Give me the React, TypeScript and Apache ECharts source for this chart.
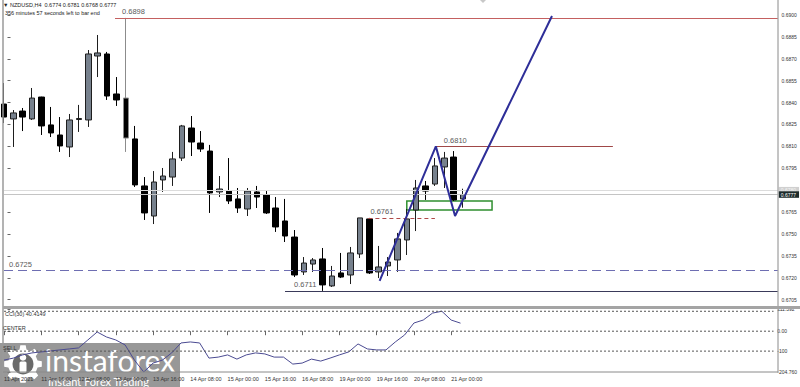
import React, { useEffect, useRef } from 'react';
import * as echarts from 'echarts';

// ---------- data ----------
const symbolName = 'NZDUSD,H4';
const opens = [0.6839, 0.68288, 0.68342, 0.68288, 0.68438, 0.68247, 0.68178, 0.68096, 0.68284, 0.68281, 0.68719, 0.68733, 0.68459, 0.68431, 0.68151, 0.67829, 0.67623, 0.6787, 0.6789, 0.6802, 0.68226, 0.68123, 0.68068, 0.67788, 0.67794, 0.6774, 0.67671, 0.67788, 0.67767, 0.67678, 0.67589, 0.67479, 0.6724, 0.67294, 0.67329, 0.67144, 0.67233, 0.67219, 0.67363, 0.67603, 0.6724, 0.67281, 0.67322, 0.67459, 0.67664, 0.67829, 0.67842, 0.67959, 0.68027, 0.6774];
const highs = [0.68534, 0.68349, 0.68363, 0.685, 0.6844, 0.6837, 0.68301, 0.68322, 0.68384, 0.6876, 0.68863, 0.68747, 0.68575, 0.6898, 0.6824, 0.6789, 0.67931, 0.67952, 0.68062, 0.68247, 0.68308, 0.68205, 0.6811, 0.67897, 0.6802, 0.67815, 0.67815, 0.67829, 0.67794, 0.67753, 0.6774, 0.67527, 0.67342, 0.67335, 0.67404, 0.67281, 0.6737, 0.67411, 0.6761, 0.6761, 0.67418, 0.67342, 0.67507, 0.67671, 0.6787, 0.67863, 0.6802, 0.68062, 0.68068, 0.6781];
const lows = [0.6826, 0.68096, 0.68205, 0.68281, 0.68178, 0.68164, 0.68062, 0.68027, 0.68199, 0.68233, 0.68575, 0.68418, 0.68377, 0.68062, 0.67822, 0.67596, 0.67568, 0.67788, 0.67829, 0.68, 0.68034, 0.68062, 0.67644, 0.67753, 0.67705, 0.67644, 0.67623, 0.67678, 0.67637, 0.67514, 0.67445, 0.67205, 0.67219, 0.6724, 0.6711, 0.67137, 0.67198, 0.67157, 0.67335, 0.67226, 0.67198, 0.67212, 0.6724, 0.67356, 0.6752, 0.67733, 0.67829, 0.67815, 0.67726, 0.6768];
const closes = [0.68301, 0.68329, 0.68301, 0.68431, 0.6824, 0.68192, 0.68103, 0.68281, 0.68291, 0.68733, 0.6874, 0.68445, 0.68418, 0.68157, 0.67836, 0.67644, 0.67856, 0.67897, 0.68014, 0.6824, 0.6813, 0.68082, 0.67781, 0.67808, 0.67726, 0.67678, 0.67794, 0.67753, 0.67644, 0.67548, 0.67486, 0.67219, 0.67301, 0.67322, 0.67151, 0.67212, 0.67205, 0.6737, 0.6761, 0.67233, 0.67274, 0.67308, 0.67466, 0.67603, 0.67815, 0.67794, 0.67966, 0.6802, 0.67733, 0.6777];
const cciValues = [-145, -135, -119, -109, -104, -99, -94, -89, -84, -44, -4, -29, -44, -69, -145, -204.76, -160, -145, -109, -59, -54, -59, -135, -130, -119, -140, -119, -109, -114, -130, -130, -165, -160, -140, -150, -135, -119, -104, -64, -89, -94, -94, -54, -19, 41, 56, 91, 100, 56, 40.4149];
const cciPeriod = 30;
const timeTicks = ['11 Apr 2021', '11 Apr 16:00', '12 Apr 08:00', '13 Apr 00:00', '13 Apr 16:00', '14 Apr 08:00', '15 Apr 00:00', '15 Apr 16:00', '16 Apr 08:00', '19 Apr 00:00', '19 Apr 16:00', '20 Apr 08:00', '21 Apr 00:00'];
const priceTicks = [0.6705, 0.672, 0.6735, 0.675, 0.6765, 0.678, 0.6795, 0.681, 0.6825, 0.684, 0.6855, 0.687, 0.6885, 0.69];
const cciTicks = [111.392, 0, -100, -204.76];
const cciTickText = ['111.392', '0.00', '-100', '-204.760'];
const cciLevels = [100, 0, -100];
const zigzag = [[40.1, 0.67178], [46.1, 0.681], [48.15, 0.67623], [58.5, 0.68993]];
const levelPrices = [0.6898, 0.681, 0.6761, 0.6725, 0.6711];
const levelStart = [11.85, 46.1, 38.9, 0, 30];
const levelEnd = [82.6, 65, 46, 82.6, 82.6];
const zoneBounds = [0.67726, 0.67664];
const zoneSlots = [43.0, 52.1];
const askPrice = 0.678;
const spikeIndex = 13;
const secondsLeftText = '356 minutes 57 seconds left to bar end';

// ---------- layout ----------
const tickStep = 4;
const slotCount = 84;
const axisEndSlot = 82.6;
const yMin = 0.670066;
const yMax = 0.691027;
const cciMin = -204.76;
const cciMax = 111.392;
const FONT = '"Liberation Sans", Arial, sans-serif';

const levelStyles = [
  { color: '#c46060', type: 'solid', dist: [7, 2] },
  { color: '#a04848', type: 'solid', dist: [8, 2] },
  { color: '#b04848', type: [4, 3], dist: [2, 2] },
  { color: '#6e6eb2', type: [9, 5], dist: [5, 1.5] },
  { color: '#3a3a5a', type: 'solid', dist: [9, 2] },
];

function gearPoints(cx: number, cy: number, rOut: number, rIn: number, n: number) {
  const pts: number[][] = [];
  const step = (Math.PI * 2) / n;
  for (let k = 0; k < n; k++) {
    const b = k * step;
    const at = (r: number, a: number) => [cx + r * Math.cos(a), cy + r * Math.sin(a)];
    pts.push(at(rIn, b - step * 0.3));
    pts.push(at(rOut, b - step * 0.18));
    pts.push(at(rOut, b + step * 0.18));
    pts.push(at(rIn, b + step * 0.3));
  }
  return pts;
}

export default function App() {
  const ref = useRef<HTMLDivElement>(null);
  useEffect(() => {
    if (!ref.current) return;
    const chart = echarts.init(ref.current, undefined, { renderer: 'svg' });
    const categories = Array.from({ length: slotCount }, (_, i) => String(i));
    const showTick = (i: number) => i % tickStep === 0 && i / tickStep < timeTicks.length;
    const last = opens.length - 1;
    const fmt = (v: number) => v.toFixed(4);

    const levelLines = levelPrices.map((p, i) => [
      {
        coord: [levelStart[i], p],
        lineStyle: { color: levelStyles[i].color, type: levelStyles[i].type, width: 1 },
        label: {
          show: true,
          position: 'insideStartTop',
          formatter: fmt(p),
          distance: levelStyles[i].dist,
          color: '#5a5a5a',
          fontSize: 7.5,
          fontFamily: FONT,
        },
      },
      { coord: [levelEnd[i], p] },
    ]);
    const bidAsk = [
      [
        {
          coord: [0, askPrice],
          lineStyle: { color: '#dcdcdc', width: 1.2, type: 'solid' },
          label: { show: true, position: 'end', formatter: fmt(askPrice), distance: 1, color: '#f4f4f4', backgroundColor: '#d0d0d0', padding: [1, 3, 0.5, 2], fontSize: 5, fontFamily: FONT },
        },
        { coord: [axisEndSlot, askPrice] },
      ],
      [
        {
          coord: [0, closes[last]],
          lineStyle: { color: '#c4c4c4', width: 1.2, type: 'solid' },
          label: { show: true, position: 'end', formatter: fmt(closes[last]), distance: 1, color: '#ffffff', backgroundColor: '#1d2b2b', padding: [1, 3, 0.5, 2], fontSize: 5, fontFamily: FONT },
        },
        { coord: [axisEndSlot, closes[last]] },
      ],
    ];

    const option: any = {
      animation: false,
      backgroundColor: '#ffffff',
      textStyle: { fontFamily: FONT },
      grid: [
        { left: 4, right: 18.5, top: 0, height: 306 },
        { left: 4, right: 18.5, top: 309, height: 63 },
      ],
      xAxis: [
        { type: 'category', gridIndex: 0, data: categories, boundaryGap: false, show: false },
        { type: 'value', gridIndex: 0, min: 0, max: slotCount - 1, show: false },
        {
          type: 'category', gridIndex: 1, data: categories, boundaryGap: false,
          axisLine: { show: false },
          axisTick: { show: true, length: 4, interval: (i: number) => showTick(i), lineStyle: { color: '#666' } },
          axisLabel: {
            interval: (i: number) => showTick(i),
            formatter: (_v: string, i: number) => (showTick(i) ? timeTicks[i / tickStep] : ''),
            align: 'left', margin: 4, fontSize: 5.5, color: '#333', fontFamily: FONT,
          },
          splitLine: { show: false },
        },
        { type: 'value', gridIndex: 1, min: 0, max: slotCount - 1, show: false },
      ],
      yAxis: [
        {
          type: 'value', gridIndex: 0, position: 'right', offset: -3.5, min: yMin, max: yMax,
          splitLine: { show: false }, axisLine: { show: false },
          axisTick: { show: true, length: 3, customValues: priceTicks, lineStyle: { color: '#666' } },
          axisLabel: { customValues: priceTicks, formatter: (v: number) => fmt(v), fontSize: 5, color: '#333', margin: 3.5, fontFamily: FONT },
        },
        {
          type: 'value', gridIndex: 1, position: 'right', offset: -3.5, min: cciMin, max: cciMax,
          splitLine: { show: false }, axisLine: { show: false },
          axisTick: { show: true, length: 3, customValues: cciTicks, lineStyle: { color: '#666' } },
          axisLabel: {
            customValues: cciTicks,
            formatter: (v: number) => {
              const k = cciTicks.findIndex((t) => Math.abs(t - v) < 1e-6);
              return k >= 0 ? cciTickText[k] : '';
            },
            fontSize: 5, color: '#333', margin: 3.5, fontFamily: FONT,
          },
        },
      ],
      series: [
        {
          type: 'line', name: 'levels', xAxisIndex: 1, yAxisIndex: 0, data: [], z: 3, silent: true,
          markLine: { silent: true, symbol: ['none', 'none'], animation: false, data: [...bidAsk, ...levelLines] },
          markArea: {
            silent: true,
            itemStyle: { color: 'rgba(0,0,0,0)', borderColor: '#2f8f2f', borderWidth: 1.5 },
            data: [[{ coord: [zoneSlots[0], zoneBounds[0]] }, { coord: [zoneSlots[1], zoneBounds[1]] }]],
          },
        },
        {
          type: 'candlestick', name: symbolName, xAxisIndex: 0, yAxisIndex: 0, barWidth: 6, z: 4,
          data: opens.map((o, i) => {
            const item: any = { value: [o, closes[i], lows[i], highs[i]] };
            if (i === spikeIndex) item.itemStyle = { borderColor0: '#8c8c8c' };
            return item;
          }),
          itemStyle: { color: '#77818d', color0: '#000000', borderColor: '#1e1e1e', borderColor0: '#000000', borderWidth: 1 },
        },
        {
          type: 'line', name: 'zigzag', xAxisIndex: 1, yAxisIndex: 0, data: zigzag, symbol: 'none', z: 6,
          lineStyle: { color: '#2e2e98', width: 2 },
        },
        {
          type: 'line', name: 'CCI', xAxisIndex: 2, yAxisIndex: 1, data: cciValues, symbol: 'none',
          lineStyle: { color: '#4b4b92', width: 1 },
        },
        ...cciLevels.map((lv) => ({
          type: 'line', xAxisIndex: 3, yAxisIndex: 1, data: [[0, lv], [axisEndSlot, lv]], symbol: 'none', silent: true,
          lineStyle: { color: '#555', width: 1, type: [2, 2] },
        })),
      ],
      graphic: [
        { type: 'line', shape: { x1: 3, y1: 0, x2: 3, y2: 387 }, style: { stroke: '#9a9a9a', lineWidth: 1.5 }, z: 10 },
        { type: 'line', shape: { x1: 778, y1: 0, x2: 778, y2: 372 }, style: { stroke: '#8a8a8a', lineWidth: 1 }, z: 10 },
        { type: 'line', shape: { x1: 3, y1: 372, x2: 778, y2: 372 }, style: { stroke: '#8a8a8a', lineWidth: 1 }, z: 10 },
        { type: 'rect', shape: { x: 3, y: 306, width: 797, height: 3 }, style: { fill: '#a4a4a4' }, z: 10 },
        { type: 'polygon', shape: { points: [[480, 0], [486, 0], [483, 3]] }, style: { fill: '#c8c8c8' }, z: 10 },
        {
          type: 'text', x: 3, y: 4.5, z: 10,
          style: { text: `▼ ${symbolName}  ${fmt(opens[last])} ${fmt(highs[last])} ${fmt(lows[last])} ${fmt(closes[last])}`, fill: '#222', fontSize: 5.5, fontFamily: FONT, verticalAlign: 'middle' },
        },
        { type: 'text', x: 5, y: 12.5, z: 10, style: { text: secondsLeftText, fill: '#222', fontSize: 5.5, fontFamily: FONT, verticalAlign: 'middle' } },
        { type: 'text', x: 5, y: 314, z: 10, style: { text: `CCI(${cciPeriod}) ${cciValues[last].toFixed(4)}`, fill: '#333', fontSize: 5.5, fontFamily: FONT, verticalAlign: 'middle' } },
        { type: 'text', x: 3, y: 327.5, z: 10, style: { text: 'CENTER', fill: '#333', fontSize: 5.5, fontFamily: FONT, verticalAlign: 'middle' } },
        { type: 'text', x: 3, y: 347.5, z: 10, style: { text: 'SELL', fill: '#333', fontSize: 5.5, fontFamily: FONT, verticalAlign: 'middle' } },
        {
          type: 'group', z: 20,
          children: [
            { type: 'rect', shape: { x: 0, y: 343, width: 180, height: 44 }, style: { fill: 'rgba(88,88,88,0.62)' } },
            { type: 'polygon', shape: { points: gearPoints(23, 364, 19, 15, 8) }, style: { fill: '#ffffff' } },
            { type: 'circle', shape: { cx: 23, cy: 364, r: 10.5 }, style: { fill: '#6a6a6a' } },
            { type: 'circle', shape: { cx: 23, cy: 357.5, r: 3.3 }, style: { fill: '#ffffff' } },
            { type: 'rect', shape: { x: 19.5, y: 361.5, width: 7, height: 11, r: 1.5 }, style: { fill: '#ffffff' } },
            { type: 'text', x: 45, y: 360, style: { text: 'instaforex', fill: '#ffffff', fontSize: 30, fontFamily: 'Lato, "Open Sans", sans-serif', verticalAlign: 'middle' } },
            { type: 'text', x: 48, y: 381, style: { text: 'Instant Forex Trading', fill: '#ffffff', fontSize: 11, fontFamily: 'Lato, "Open Sans", sans-serif', verticalAlign: 'middle' } },
          ],
        },
      ],
    };
    chart.setOption(option);
    return () => chart.dispose();
  }, []);
  return <div ref={ref} style={{ position: 'absolute', left: 0, top: 0, width: 800, height: 387 }} />;
}
